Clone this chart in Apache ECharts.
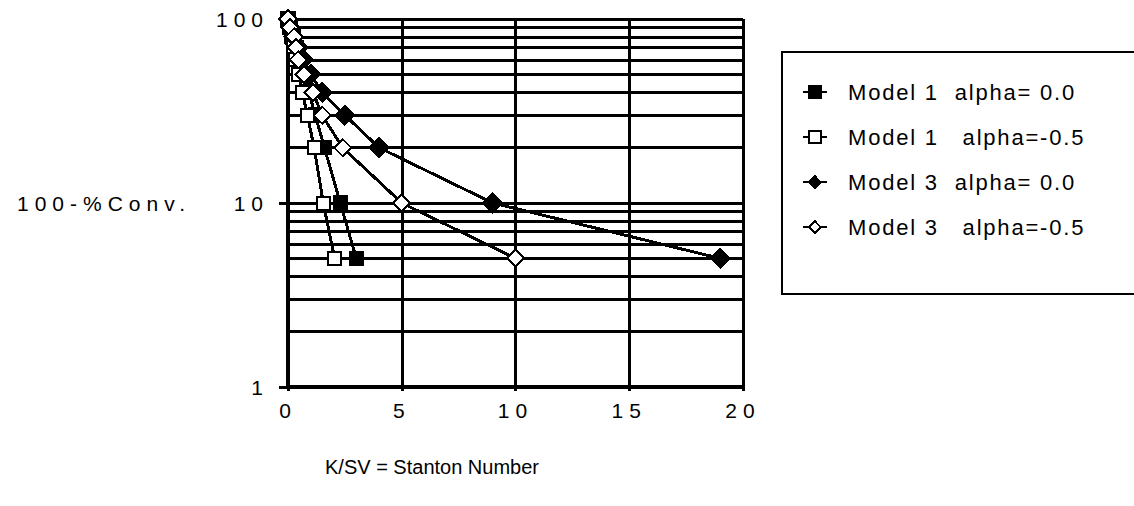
<!DOCTYPE html>
<html>
<head>
<meta charset="utf-8">
<script src="https://cdn.jsdelivr.net/npm/echarts@6/dist/echarts.min.js"></script>
<style>
  html, body { margin: 0; padding: 0; background: #fff; }
  #chart { width: 1134px; height: 506px; }
  /* the old plot prints numbers and the y title with wide tracking */
  #chart text[style*="21px"] { letter-spacing: 6px; }
  #chart text[style*="22px"] { letter-spacing: 1.8px; }
  #chart path { shape-rendering: crispEdges; }
</style>
</head>
<body>
<div id="chart"></div>
<script>
// remaining % (100 - %conversion) levels shared by all four curves
const levels = [100, 90, 80, 70, 60, 50, 40, 30, 20, 10, 5]
// Stanton number for each level
const model1Alpha0 = [0, 0.1, 0.22, 0.36, 0.51, 0.69, 0.92, 1.2, 1.6, 2.3, 3.0]
const model1AlphaM05 = [0, 0.07, 0.15, 0.25, 0.35, 0.48, 0.63, 0.85, 1.15, 1.55, 2.05]
const model3Alpha0 = [0, 0.11, 0.25, 0.43, 0.67, 1.0, 1.5, 2.5, 4.0, 9.0, 19.0]
const model3AlphaM05 = [0, 0.08, 0.27, 0.35, 0.45, 0.7, 1.1, 1.5, 2.4, 5.0, 10.0]
const seriesNames = ['Model 1  alpha= 0.0', 'Model 1   alpha=-0.5', 'Model 3  alpha= 0.0', 'Model 3   alpha=-0.5']
// minor horizontal grid lines of the log axis
const minorLines = [2, 3, 4, 5, 6, 7, 8, 9, 20, 30, 40, 50, 60, 70, 80, 90]

const font = 'Liberation Sans, Arial, sans-serif'
const gridWidth = 3

const pairs = xs => xs.map((x, i) => [x, levels[i]])

const makeSeries = (name, xs, symbol, size) => ({
  name,
  type: 'line',
  data: pairs(xs),
  symbol,
  symbolSize: size,
  lineStyle: {color: '#000', width: 3},
  itemStyle: {color: '#000', borderColor: '#000', borderWidth: 2.5},
  z: 3
})

const chart = echarts.init(document.getElementById('chart'), null, {renderer: 'svg'})
chart.setOption({
  backgroundColor: '#fff',
  animation: false,
  textStyle: {fontFamily: font, color: '#000'},
  grid: {left: 288, right: 391, top: 19, bottom: 119},
  legend: {
    orient: 'vertical',
    left: 782,
    top: 52,
    data: seriesNames,
    itemWidth: 24,
    itemHeight: 14,
    itemGap: 23,
    padding: [29, 200, 56, 20],
    borderColor: '#000',
    borderWidth: 2.5,
    textStyle: {fontFamily: font, fontSize: 22, color: '#000', padding: [0, 0, 0, 16]},
    selectedMode: false
  },
  xAxis: {
    type: 'value',
    min: 0,
    max: 20,
    interval: 5,
    name: 'K/SV = Stanton Number',
    nameLocation: 'middle',
    nameGap: 70,
    nameTextStyle: {fontFamily: font, fontSize: 20, color: '#000', padding: [0, 167, 0, 0]},
    axisLine: {lineStyle: {color: '#000', width: 4}},
    axisTick: {show: true, length: 4, lineStyle: {color: '#000', width: gridWidth}},
    axisLabel: {fontFamily: font, fontSize: 21, color: '#000', margin: 13},
    splitLine: {show: true, lineStyle: {color: '#000', width: gridWidth}}
  },
  yAxis: {
    type: 'log',
    logBase: 10,
    min: 1,
    max: 100,
    name: '100-%Conv.',
    nameLocation: 'middle',
    nameRotate: 0,
    nameGap: 97,
    nameTextStyle: {fontFamily: font, fontSize: 21, color: '#000'},
    axisLine: {lineStyle: {color: '#000', width: 4}},
    axisTick: {show: true, length: 9, lineStyle: {color: '#000', width: gridWidth}},
    axisLabel: {fontFamily: font, fontSize: 21, color: '#000', margin: 19},
    splitLine: {show: true, lineStyle: {color: '#000', width: gridWidth}},
    minorTick: {show: false}
  },
  series: [
    {
      type: 'line',
      data: [],
      silent: true,
      z: 1,
      markLine: {
        silent: true,
        symbol: 'none',
        z: 1,
        label: {show: false},
        lineStyle: {color: '#000', type: 'solid', width: gridWidth},
        data: minorLines.map(v => ({yAxis: v}))
      }
    },
    makeSeries(seriesNames[0], model1Alpha0, 'rect', 13),
    makeSeries(seriesNames[1], model1AlphaM05, 'emptyRect', 13),
    makeSeries(seriesNames[2], model3Alpha0, 'diamond', 18),
    makeSeries(seriesNames[3], model3AlphaM05, 'emptyDiamond', 17)
  ]
})
</script>
</body>
</html>
